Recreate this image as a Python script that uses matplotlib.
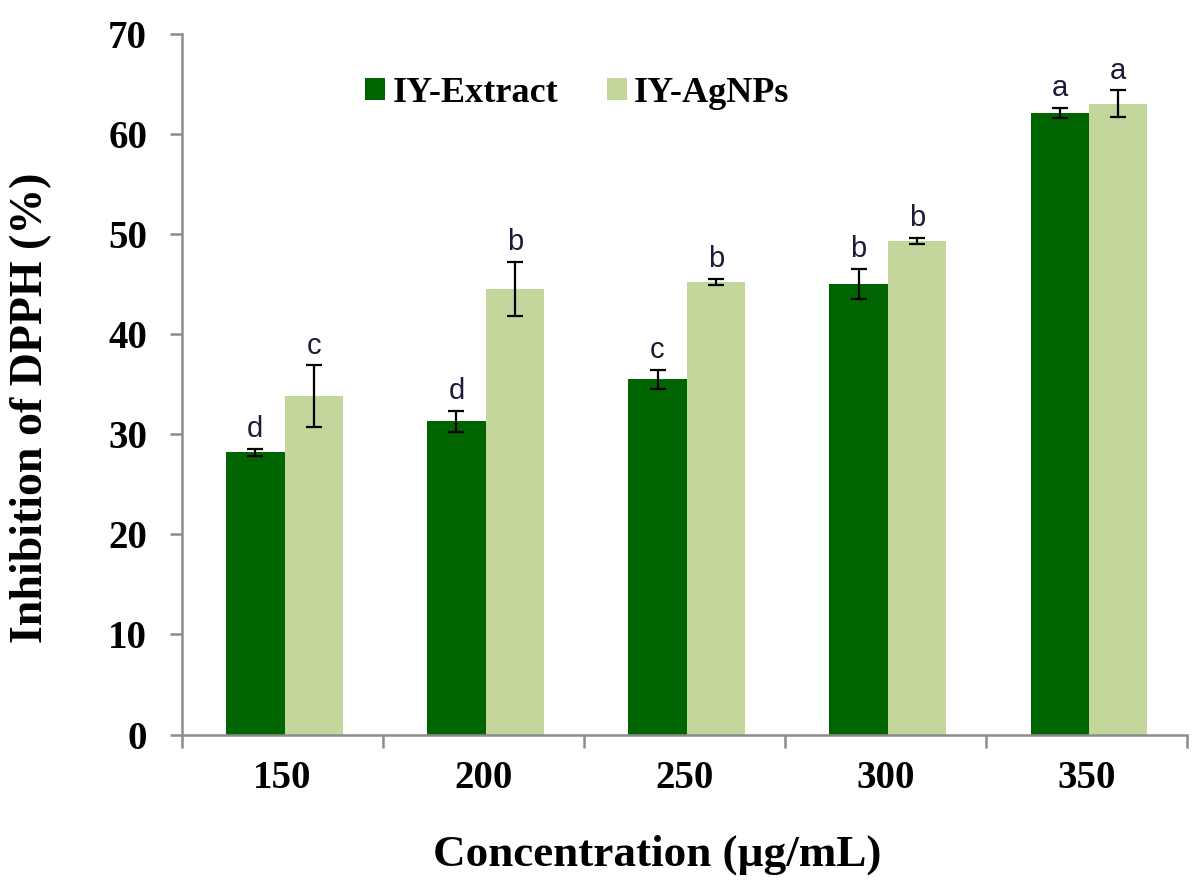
import numpy as np
import matplotlib
matplotlib.use("Agg")
import matplotlib.pyplot as plt

# DPPH inhibition data
conc = ["150", "200", "250", "300", "350"]
extract = [28.2, 31.3, 35.5, 45.0, 62.1]
extract_err = [0.35, 1.05, 0.95, 1.5, 0.5]
agnps = [33.8, 44.5, 45.2, 49.3, 63.0]
agnps_err = [3.1, 2.7, 0.3, 0.3, 1.35]
extract_sig = ["d", "d", "c", "b", "a"]
agnps_sig = ["c", "b", "b", "b", "a"]

serif = "Liberation Serif"
dark = "#006400"
light = "#c3d69b"
spine_col = "#8c8c8c"

fig = plt.figure(figsize=(11.97, 8.83), dpi=100)
ax = fig.add_axes([0.152, 0.168, 0.84, 0.794])

x = np.arange(len(conc))
w = 0.29
ax.bar(x - w/2 + 0.01, extract, w, color=dark, label="IY-Extract", zorder=2)
ax.bar(x + w/2 + 0.01, agnps, w, color=light, label="IY-AgNPs", zorder=2)
ax.errorbar(x - w/2 + 0.01, extract, yerr=extract_err, fmt="none", ecolor="black",
            elinewidth=1.6, capsize=6, capthick=1.6, zorder=3)
ax.errorbar(x + w/2 + 0.01, agnps, yerr=agnps_err, fmt="none", ecolor="black",
            elinewidth=1.6, capsize=6, capthick=1.6, zorder=3)

# significance letters
for i in range(len(conc)):
    ax.annotate(extract_sig[i], (x[i] - w/2 + 0.01, extract[i] + extract_err[i]),
                xytext=(0, 4), textcoords="offset points", ha="center", va="bottom",
                fontsize=21, family="Liberation Sans", color="#1c1c3a")
    ax.annotate(agnps_sig[i], (x[i] + w/2 + 0.01, agnps[i] + agnps_err[i]),
                xytext=(0, 4), textcoords="offset points", ha="center", va="bottom",
                fontsize=21, family="Liberation Sans", color="#1c1c3a")

ax.set_xlim(-0.5, 4.5)
ax.set_ylim(0, 70)
ax.set_yticks(range(0, 71, 10))
ax.set_xticks(x)
ax.set_xticklabels(conc)
ax.set_xticks(np.arange(-0.5, 4.6, 1), minor=True)
ax.tick_params(axis="x", which="major", length=0, pad=18)
ax.tick_params(axis="x", which="minor", length=9, width=1.8, color=spine_col)
ax.tick_params(axis="y", length=9, width=1.8, color=spine_col, pad=16)
for lab in ax.get_xticklabels() + ax.get_yticklabels():
    lab.set_fontfamily(serif)
    lab.set_fontweight("bold")
    lab.set_fontsize(28)

for s in ["top", "right"]:
    ax.spines[s].set_visible(False)
for s in ["left", "bottom"]:
    ax.spines[s].set_color(spine_col)
    ax.spines[s].set_linewidth(1.8)

fig.text(0.026, 0.538, "Inhibition of DPPH (%)", family=serif, fontweight="bold",
         fontsize=33, rotation=90, ha="center", va="center")
fig.text(0.549, 0.032, "Concentration (µg/mL)", family=serif, fontweight="bold",
         fontsize=32.5, ha="center", va="center")

ax.legend(loc="upper left", bbox_to_anchor=(0.15, 0.985), ncol=2, frameon=False,
          prop={"family": serif, "weight": "bold", "size": 26},
          handlelength=0.55, handleheight=0.55, handletextpad=0.2, columnspacing=1.35)

fig.savefig("out.png", dpi=100)
